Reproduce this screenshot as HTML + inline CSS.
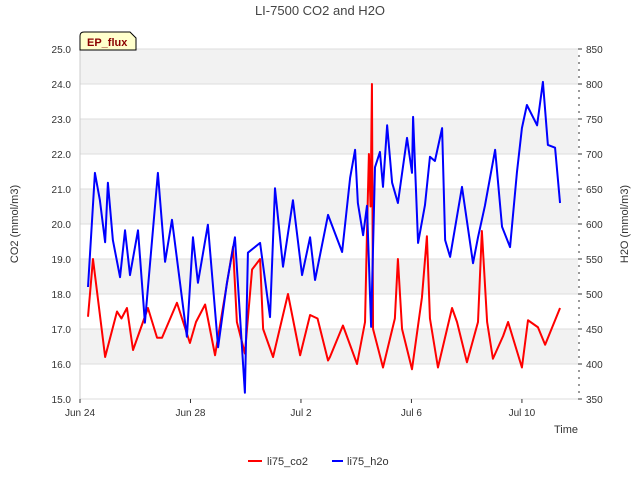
<!DOCTYPE html>
<html><head><meta charset="utf-8"><style>body{margin:0;background:#fff}svg{display:block;font-family:"Liberation Sans","DejaVu Sans",sans-serif}</style></head>
<body>
<svg id="chart" width="640" height="480">
<text x="320" y="15" text-anchor="middle" font-size="13" fill="#444">LI-7500 CO2 and H2O</text>
<g id="grid"></g><g id="axes"></g><g id="series"></g>
<g><path d="M80,50 L80,36 Q80,32 84,32 L130,32 L136,38 L136,50 Z" fill="#ffffcc" stroke="#000" stroke-width="1"/><text x="87" y="46" font-size="11" font-weight="bold" fill="#8b0000">EP_flux</text></g>
<text x="18" y="224" font-size="11" fill="#333" text-anchor="middle" transform="rotate(-90 18 224)">CO2 (mmol/m3)</text>
<text x="628" y="224" font-size="11" fill="#333" text-anchor="middle" transform="rotate(-90 628 224)">H2O (mmol/m3)</text>
<text x="578" y="433" font-size="11" fill="#333" text-anchor="end">Time</text>
<g><line x1="248" y1="461" x2="262" y2="461" stroke="#f00" stroke-width="2"/><text x="267" y="465" font-size="11" fill="#333">li75_co2</text></g>
<g><line x1="332" y1="461" x2="343" y2="461" stroke="#00f" stroke-width="2"/><text x="347" y="465" font-size="11" fill="#333">li75_h2o</text></g>
</svg>
<script>
const co2Days=[0.29,0.47,0.91,1.34,1.5,1.7,1.92,2.46,2.79,2.97,3.51,3.98,4.2,4.53,4.89,5.32,5.54,5.68,5.97,6.23,6.52,6.63,6.99,7.53,7.97,8.33,8.6,8.98,9.05,9.52,10.03,10.32,10.39,10.46,10.52,10.57,10.61,10.97,11.40,11.51,11.66,12.02,12.38,12.56,12.67,12.96,13.47,13.65,14.01,14.41,14.55,14.74,14.95,15.32,15.50,16.00,16.22,16.58,16.84,17.38];
const co2Values=[17.35,19.0,16.2,17.5,17.3,17.6,16.4,17.6,16.75,16.75,17.75,16.6,17.2,17.7,16.25,18.3,19.35,17.2,16.3,18.7,19.0,17.0,16.2,18.0,16.25,17.4,17.3,16.1,16.2,17.1,16.0,17.2,19.75,22.0,20.5,24.0,17.0,15.9,17.3,19.0,17.0,15.85,17.9,19.65,17.3,15.9,17.6,17.2,16.05,17.2,19.8,17.2,16.15,16.8,17.2,15.9,17.25,17.05,16.55,17.6];
const h2oDays=[0.29,0.54,0.72,0.91,1.01,1.19,1.45,1.63,1.81,2.10,2.35,2.82,3.08,3.33,3.87,4.09,4.27,4.63,5.00,5.32,5.61,5.97,6.08,6.52,6.88,7.06,7.35,7.71,8.04,8.33,8.51,8.98,9.49,9.78,9.96,10.06,10.25,10.39,10.54,10.68,10.86,10.97,11.12,11.30,11.51,11.84,12.02,12.06,12.24,12.49,12.67,12.85,13.11,13.22,13.40,13.83,14.23,14.41,14.66,15.03,15.28,15.57,15.82,16.00,16.18,16.55,16.76,16.94,17.20,17.38];
const h2oValues=[510,673,634,574,659,577,524,591,527,591,459,673,546,606,439,581,516,599,424,516,581,359,559,573,467,651,539,634,527,581,520,613,560,666,706,630,584,626,453,681,703,653,741,659,630,723,673,753,573,627,696,690,737,577,553,653,544,581,626,706,596,567,674,737,770,741,803,713,709,630];
const co2Ticks=[15,16,17,18,19,20,21,22,23,24,25];
const h2oTicks=[350,400,450,500,550,600,650,700,750,800,850];
const dateTicks=[0,4,8,12,16];
const dateLabels=["Jun 24","Jun 28","Jul 2","Jul 6","Jul 10"];
const X0=80,X1=578,Y0=49,Y1=399;
const xs=d=>X0+d*27.62;
const yL=v=>Y1-(v-15)*(Y1-Y0)/10;
const yR=v=>Y1-(v-350)*(Y1-Y0)/500;
const NS="http://www.w3.org/2000/svg";
function mk(p,t,a){const e=document.createElementNS(NS,t);for(const k in a)e.setAttribute(k,a[k]);p.appendChild(e);return e;}
const grid=document.getElementById('grid'),axes=document.getElementById('axes'),ser=document.getElementById('series');
const bg=mk(grid,'rect',{x:X0,y:Y0,width:X1-X0,height:Y1-Y0,fill:'#fff'});


for(let i=0;i<co2Ticks.length-1;i++){
  if((co2Ticks.length-2-i)%2===0){
    const b=mk(grid,'rect',{x:X0,y:yL(co2Ticks[i+1]),width:X1-X0,height:yL(co2Ticks[i])-yL(co2Ticks[i+1]),fill:'#f2f2f2'});
    
    
  }
}
co2Ticks.forEach(v=>{
  const l=mk(grid,'line',{x1:X0,x2:X1,y1:yL(v),y2:yL(v),stroke:'#ddd','stroke-width':1});
  
  
  const t=mk(axes,'text',{x:X0-9,y:yL(v)+4,'font-size':10,fill:'#333','text-anchor':'end'});t.textContent=v.toFixed(1);
  
  
});
h2oTicks.forEach(v=>{
  const t=mk(axes,'text',{x:X1+8,y:yR(v)+4,'font-size':10,fill:'#333'});t.textContent=v;
  
  
});
for(let v=350;v<=850;v+=10){const tk=mk(axes,'line',{x1:X1,x2:X1+(v%50===0?4:2),y1:yR(v),y2:yR(v),stroke:'#333'});
  
  }
dateTicks.forEach((d,i)=>{
  const t=mk(axes,'text',{x:xs(d),y:Y1+17,'font-size':10,fill:'#333','text-anchor':'middle'});t.textContent=dateLabels[i];
  
  
  const tk=mk(axes,'line',{x1:xs(d),x2:xs(d),y1:Y1,y2:Y1+4,stroke:'#333'});
  
  
});
const ax=mk(axes,'line',{x1:X0,x2:X0,y1:Y0,y2:Y1,stroke:'#ccc'});


const co2=mk(ser,'polyline',{points:co2Days.map((d,i)=>xs(d)+','+yL(co2Values[i])).join(' '),fill:'none',stroke:'#f00','stroke-width':2,'stroke-linejoin':'round'});


const h2o=mk(ser,'polyline',{points:h2oDays.map((d,i)=>xs(d)+','+yR(h2oValues[i])).join(' '),fill:'none',stroke:'#00f','stroke-width':2,'stroke-linejoin':'round'});


</script>
</body></html>
